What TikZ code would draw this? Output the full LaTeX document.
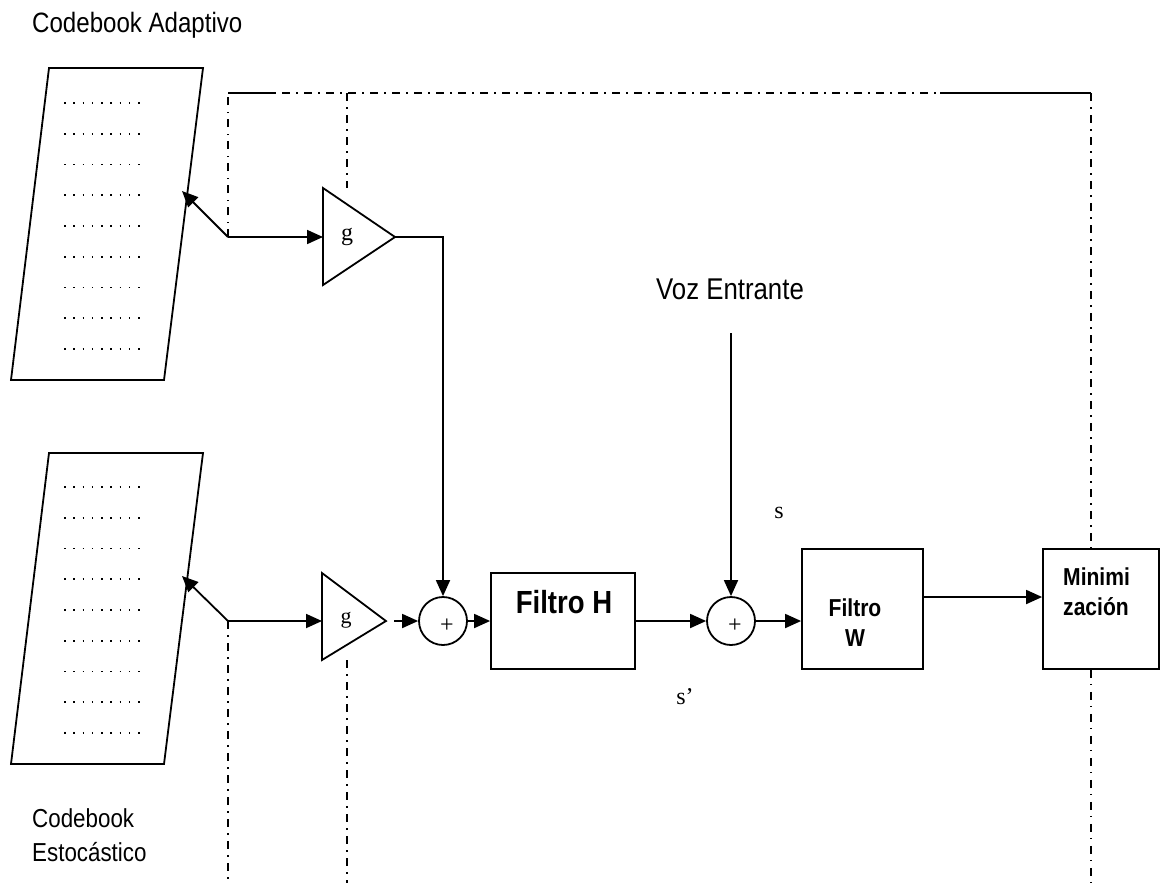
\documentclass[tikz,border=0pt]{standalone}
\usepackage{fontspec}
\setmainfont{Liberation Serif}
\setsansfont{Liberation Sans}[FakeStretch=0.86]
\usepackage{tikz}
\usetikzlibrary{arrows.meta, positioning}

\begin{document}
\begin{tikzpicture}[
    x=1pt, y=-1pt,
    wire/.style={line width=1.8pt},
    arr/.style={line width=1.8pt, -{Triangle[length=16pt, width=14pt]}},
    fbline/.style={line width=1.4pt, dash pattern=on 8pt off 6pt on 1.5pt off 6.5pt},
    cbdots/.style={line width=1.6pt, dash pattern=on 1.6pt off 7.65pt},
    blk/.style={rectangle, draw, line width=1.8pt, inner sep=0pt},
    sumnode/.style={circle, draw, line width=1.8pt, minimum size=48pt, inner sep=0pt},
    txt/.style={font=\sffamily\fontsize{28}{34}\selectfont, inner sep=0pt},
    hd/.style={font=\sffamily\bfseries\fontsize{24.5}{30}\selectfont, inner sep=0pt},
    sym/.style={font=\fontsize{24}{24}\selectfont, inner sep=0pt}
]
\useasboundingbox (0,0) rectangle (1161,883);

% Codebook Adaptivo
\node[txt, anchor=base west] (cbAtxt) at (32,33) {Codebook Adaptivo};
\draw[wire] (49,68) -- (203,68) -- (164,380) -- (11,380) -- cycle;
\foreach \y in {103,133.75,...,349} \draw[cbdots] (64,\y) -- (140,\y);

% Codebook Estocastico
\draw[wire] (49,453) -- (203,453) -- (164,764) -- (11,764) -- cycle;
\foreach \y in {487,517.75,...,733} \draw[cbdots] (64,\y) -- (140,\y);
\node[txt, font=\sffamily\fontsize{26}{34}\selectfont, align=left, anchor=north west] (cbBtxt) at (32,808) {Codebook\\Estocástico};

% Ganancias
\coordinate (jA) at (228,237);
\coordinate (cbAin) at (182,191);
\coordinate (gAin) at (323,237);
\coordinate (gAout) at (395,237);
\draw[wire] (323,188) -- (323,285) -- (395,237) -- cycle;
\node[sym] (gA) at (347,237) {g};

\coordinate (jB) at (228,621);
\coordinate (cbBin) at (182,576);
\coordinate (gBin) at (322,621);
\coordinate (gBout) at (394,621);
\draw[wire] (322,573) -- (322,660) -- (386,621) -- cycle;
\node[sym, font=\fontsize{22}{22}\selectfont] (gB) at (346,620) {g};

% Sumadores y filtros
\node[sumnode] (sumA) at (443,621) {};
\node[sym] (plusA) at (447,626) {+};
\node[blk, minimum width=144pt, minimum height=96pt] (filH) at (563,621) {};
\node[hd, font=\sffamily\bfseries\fontsize{32}{36}\selectfont] (filHtxt) at (564,602) {Filtro H};
\node[sumnode] (sumB) at (731,621) {};
\node[sym] (plusB) at (735,626) {+};
\node[blk, minimum width=121pt, minimum height=120pt] (filW) at (862.5,609) {};
\node[hd, align=center] (filWtxt) at (855,623) {Filtro\\W};
\node[blk, minimum width=116pt, minimum height=120pt] (minim) at (1101,609) {};
\node[hd, align=left, anchor=west] (minimtxt) at (1063,592) {Minimi\\zación};

% Voz entrante
\node[txt, font=\sffamily\fontsize{30}{34}\selectfont] (voz) at (730,289) {Voz Entrante};
\coordinate (vozIn) at (731,333);
\node[sym] (sLbl) at (779,513) {s};
\node[sym] (spLbl) at (685,697) {s’};

% Flechas
\draw[arr] (jA) -- (cbAin);
\draw[arr] (jA) -- (gAin);
\draw[arr] (gAout) -| (sumA.north);
\draw[arr] (jB) -- (cbBin);
\draw[arr] (jB) -- (gBin);
\draw[arr] (gBout) -- (sumA);
\draw[arr] (sumA) -- (filH);
\draw[arr] (filH) -- (sumB);
\draw[arr] (vozIn) -- (sumB);
\draw[arr] (sumB.east) -- (sumB.east -| filW.west);
\draw[arr] ([yshift=12pt]filW.east) -- ([yshift=12pt]minim.west);

% Lazo de control
\coordinate (fbL) at (228,93);
\coordinate (fbM) at (347,93);
\coordinate (fbR) at (1091,93);
\draw[fbline] (jA) -- (fbL) -- (940,93);
\draw[wire] (fbL) -- (275,93);
\draw[wire] (940,93) -- (fbR);
\draw[fbline] (fbM) -- (347,188);
\draw[fbline] (fbR) -- (fbR |- minim.north);
\draw[fbline] (fbR |- minim.south) -- (1091,883);
\draw[fbline] (jB) -- (228,883);
\draw[fbline] (347,660) -- (347,883);

\end{tikzpicture}
\end{document}
